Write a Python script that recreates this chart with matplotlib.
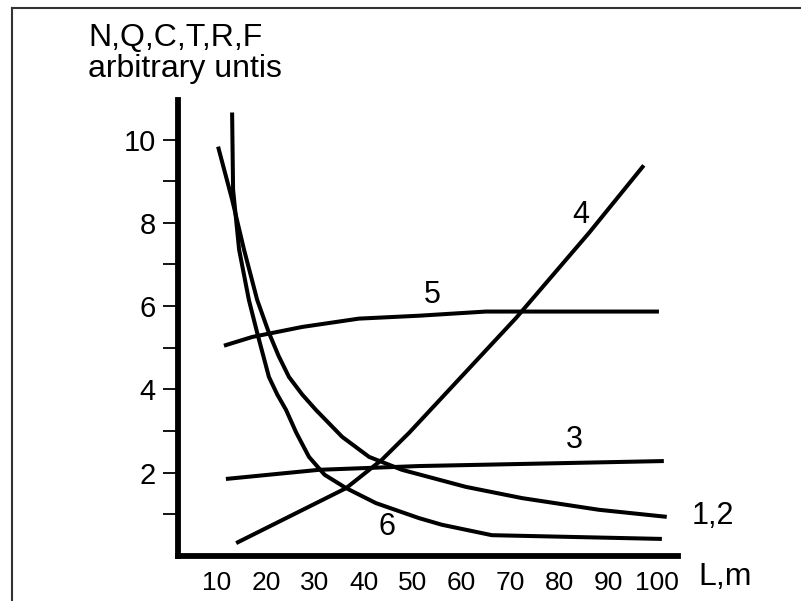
import matplotlib
matplotlib.use("Agg")
import matplotlib.pyplot as plt
from matplotlib.lines import Line2D

plt.rcParams["font.family"] = ["Liberation Sans", "DejaVu Sans"]

# curves (L in m, arbitrary units)
c12_x = [10.2, 13.07, 15.5, 18.2, 20.6, 22.6, 24.7, 27.4, 30.2, 35.6, 41.1, 47.8, 60.9, 72.4, 88.1, 102.0]
c12_y = [9.83, 8.56, 7.36, 6.15, 5.36, 4.80, 4.30, 3.88, 3.51, 2.86, 2.38, 2.07, 1.66, 1.39, 1.11, 0.94]

c6_x = [13.07, 13.27, 14.5, 16.5, 18.2, 20.6, 22.3, 24.1, 26.2, 28.8, 32.0, 36.4, 42.5, 51.3, 56.0, 66.2, 101.0]
c6_y = [10.65, 8.80, 7.36, 6.15, 5.36, 4.30, 3.88, 3.51, 2.96, 2.38, 1.95, 1.63, 1.27, 0.91, 0.75, 0.50, 0.41]

c3_x = [11.8, 30.9, 51.3, 101.4]
c3_y = [1.85, 2.07, 2.16, 2.28]

c5_x = [11.4, 17.2, 27.4, 39.0, 51.3, 65.0, 100.4]
c5_y = [5.05, 5.26, 5.50, 5.70, 5.77, 5.87, 5.87]

c4_x = [13.9, 36.4, 43.7, 49.3, 71.2, 86.1, 97.3]
c4_y = [0.31, 1.63, 2.31, 2.96, 5.72, 7.76, 9.38]

# curve labels: text, x, y
curve_labels = ["4", "5", "3", "6", "1,2"]
label_x = [84.5, 54.0, 83.0, 44.8, 111.5]
label_y = [8.2, 6.27, 2.79, 0.70, 0.96]

x_ticks = [10, 20, 30, 40, 50, 60, 70, 80, 90, 100]
y_major = [2, 4, 6, 8, 10]
y_minor = [1, 3, 5, 7, 9]

fig = plt.figure(figsize=(8.01, 6.01), dpi=100)
ax = fig.add_axes([178 / 801, 1 - 556 / 601, 500 / 801, 456 / 601])

lw = 2.9
for xs, ys in [(c12_x, c12_y), (c6_x, c6_y), (c3_x, c3_y), (c5_x, c5_y), (c4_x, c4_y)]:
    ax.plot(xs, ys, color="black", linewidth=lw, solid_capstyle="butt",
            solid_joinstyle="round", clip_on=False)

for t, x, y in zip(curve_labels, label_x, label_y):
    ax.text(x, y, t, fontsize=22, ha="center", va="center", clip_on=False)

ax.set_xlim(2, 104.3)
ax.set_ylim(0, 10.95)

ax.spines["top"].set_visible(False)
ax.spines["right"].set_visible(False)
for s in ("left", "bottom"):
    ax.spines[s].set_linewidth(4.2)
    ax.spines[s].set_capstyle("projecting")

ax.set_xticks(x_ticks)
ax.set_xticklabels([str(v) for v in x_ticks], fontsize=19)
ax.tick_params(axis="x", length=0, pad=11)

ax.set_yticks(y_major)
ax.set_yticklabels([str(v) for v in y_major], fontsize=21)
ax.set_yticks(y_minor, minor=True)
ax.tick_params(axis="y", which="both", length=11, width=1.3, pad=5, direction="out")

fig.text(698 / 801, 1 - 577 / 601, "L,m", fontsize=23, ha="left", va="center")

fig.text(88 / 801, 1 - 46 / 601, "N,Q,C,T,R,F", fontsize=23, ha="left", va="baseline")
fig.text(88 / 801, 1 - 77 / 601, "arbitrary untis", fontsize=23, ha="left", va="baseline")

# outer frame (top and left edges visible in the reference)
fig.add_artist(Line2D([12 / 801, 12 / 801], [0, 1 - 8 / 601], color="#333333", linewidth=1.5))
fig.add_artist(Line2D([12 / 801, 1], [1 - 8 / 601, 1 - 8 / 601], color="#333333", linewidth=1.5))

fig.savefig("out.png", dpi=100)
